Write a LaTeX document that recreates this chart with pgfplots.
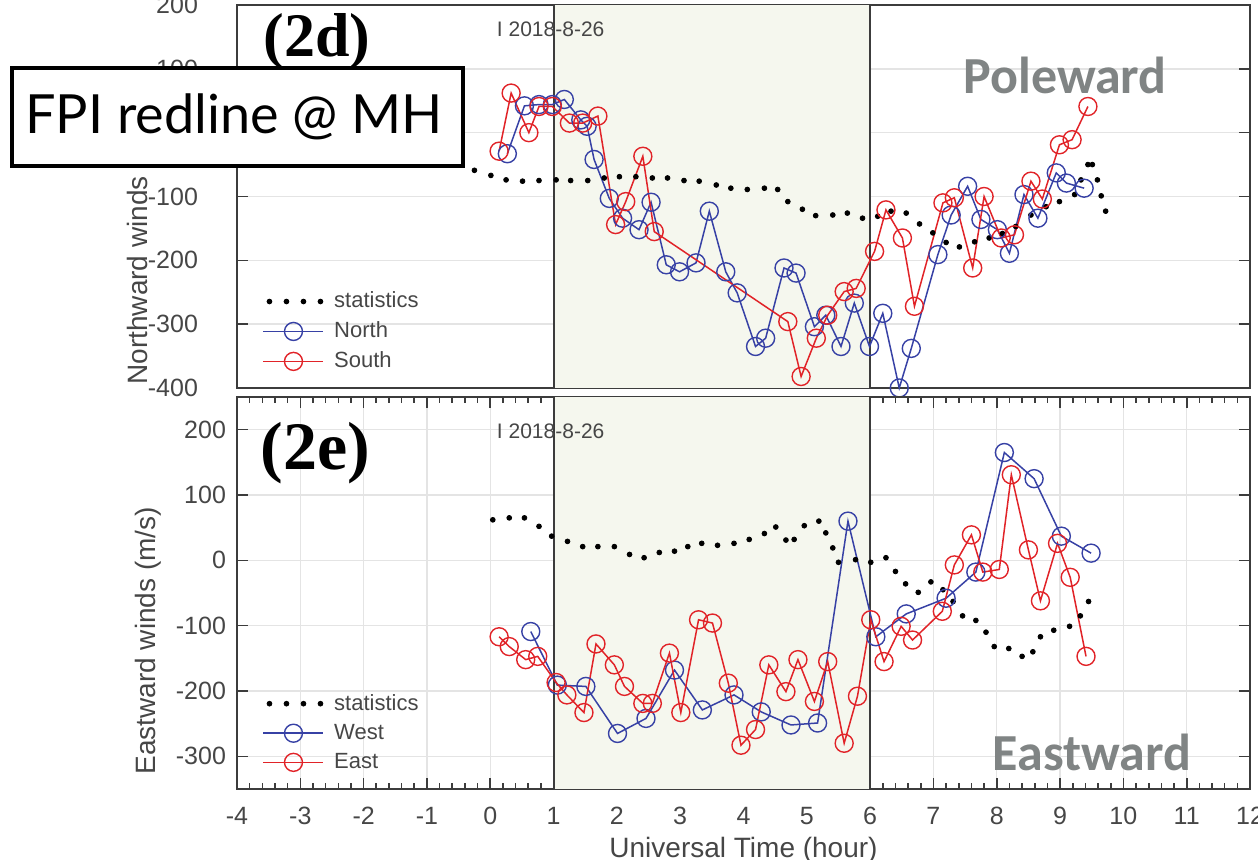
\documentclass[border=0pt]{standalone}
\usepackage{fontspec}
\setmainfont{Liberation Sans}
\newfontfamily\serifb{Liberation Serif}
\newfontfamily\lato{Lato}
\newfontfamily\carlito{Carlito}
\usepackage{pgfplots}
\pgfplotsset{compat=1.18}

\definecolor{nblue}{RGB}{55,65,165}
\definecolor{sred}{RGB}{225,35,40}
\definecolor{shadec}{RGB}{245,247,238}
\definecolor{gridc}{RGB}{228,228,228}
\definecolor{framec}{RGB}{60,60,60}
\definecolor{labc}{RGB}{70,70,70}
\definecolor{wordc}{RGB}{128,132,132}

\pgfplotsset{
  panel/.style={
    scale only axis, width=506.5pt, xmin=-4, xmax=12, clip=false,
    axis line style={framec, line width=1pt},
    tick style={framec, line width=0.8pt},
    major tick length=5.5pt, minor tick length=3pt,
    tick align=inside,
    grid style={gridc, line width=0.7pt},
    ymajorgrids,
    ticklabel style={font=\fontsize{12.5}{14}\selectfont, text=labc},
    /pgf/number format/assume math mode=true,
    legend style={draw=none, fill=none, anchor=north west,
      font=\fontsize{11}{13}\selectfont, text=labc, row sep=1.5pt, column sep=3pt, inner sep=0pt,
      cells={anchor=west}},
    legend cell align=left,
    legend image code/.code={\draw[mark repeat=2,mark phase=2,##1] plot coordinates {(0pt,0pt) (15pt,0pt) (30pt,0pt)};},
  },
  bluesty/.style={color=nblue, line width=0.75pt, mark=o, mark size=4.5pt, mark options={line width=0.7pt}},
  redsty/.style={color=sred, line width=0.75pt, mark=o, mark size=4.5pt, mark options={line width=0.7pt}},
  statsty/.style={only marks, mark=*, mark size=1.2pt, color=black,
    legend image code/.code={\foreach \i in {3,11.5,20,28.5}{\fill[black] (\i pt,0pt) circle (1.2pt);}}},
}

\begin{document}
\begin{tikzpicture}
\useasboundingbox (0pt,0pt) rectangle (629pt,-430pt);

% ---------- top panel (2d) ----------
\begin{axis}[panel,
  at={(118.5pt,-2.5pt)}, anchor=north west, height=191.5pt,
  ymin=-400, ymax=200, ytick={-400,-300,...,200},
  xtick=\empty,
  yticklabel style={xshift=-16pt},
  legend style={at={(axis description cs:0.025,0.262)}},
]
\fill[shadec] (axis cs:1,-400) rectangle (axis cs:6,200);
\draw[framec, line width=1pt] (axis cs:1,-400) -- (axis cs:1,200);
\draw[framec, line width=1pt] (axis cs:6,-400) -- (axis cs:6,200);

\addplot[statsty] coordinates {
(-0.25,-59)(0.01,-67)(0.25,-74)(0.51,-76)(0.77,-75)(1.04,-74)(1.27,-75)(1.54,-75)
(1.80,-71)(2.04,-69)(2.30,-69)(2.56,-71)(2.80,-71)(3.06,-75)(3.30,-76)(3.57,-82)
(3.80,-87)(4.06,-89)(4.33,-87)(4.54,-89)(4.70,-108)(4.93,-120)(5.14,-130)(5.41,-129)
(5.64,-126)(5.88,-134)(6.12,-131)(6.33,-123)(6.57,-126)(6.78,-143)(6.99,-157)(7.20,-172)
(7.41,-179)(7.65,-171)(7.88,-165)(8.09,-158)(8.30,-147)(8.54,-129)(8.78,-116)(8.99,-108)
(9.23,-97)(9.33,-74)(9.44,-50)(9.51,-50)(9.59,-74)(9.65,-99)(9.72,-123)};
\addlegendentry{statistics}

\addplot[bluesty] coordinates {
(0.27,-33)(0.54,42)(0.77,44)(0.98,44)(1.17,52)(1.43,20)(1.53,10)(1.64,-42)(1.88,-103)
(2.09,-134)(2.35,-152)(2.54,-109)(2.78,-207)(2.99,-218)(3.25,-204)(3.46,-123)(3.72,-218)
(3.90,-251)(4.19,-335)(4.35,-322)(4.64,-212)(4.83,-220)(5.12,-304)(5.30,-286)(5.54,-335)
(5.75,-267)(5.99,-335)(6.20,-283)(6.46,-400)(6.65,-338)(7.07,-191)(7.28,-129)(7.54,-84)
(7.75,-136)(8.01,-152)(8.20,-189)(8.43,-97)(8.65,-134)(8.94,-63)(9.10,-79)(9.38,-87)};
\addlegendentry{North}

\addplot[redsty] coordinates {
(0.14,-29)(0.33,62)(0.61,0)(0.77,41)(0.98,41)(1.25,15)(1.46,15)(1.70,26)(1.98,-144)
(2.14,-108)(2.41,-37)(2.59,-155)(4.70,-296)(4.91,-382)(5.15,-322)(5.33,-286)(5.59,-249)
(5.78,-244)(6.07,-186)(6.25,-121)(6.51,-165)(6.70,-272)(7.15,-110)(7.33,-102)(7.62,-212)
(7.80,-100)(8.07,-165)(8.28,-160)(8.54,-76)(8.72,-104)(8.99,-19)(9.19,-11)(9.44,41)};
\addlegendentry{South}

\node[anchor=west, font=\fontsize{10.5}{12}\selectfont, text=labc, inner sep=0pt] at (axis cs:0.1,162) {I 2018-8-26};
\end{axis}

% ---------- bottom panel (2e) ----------
\begin{axis}[panel,
  at={(118.5pt,-198.5pt)}, anchor=north west, height=196pt,
  ymin=-350, ymax=250, ytick={-300,-200,...,200},
  xtick={-4,-3,...,12}, minor x tick num=4, xmajorgrids,
  yticklabel style={xshift=-2pt},
  xticklabel style={yshift=-5.5pt},
  legend style={at={(axis description cs:0.025,0.253)}},
]
\fill[shadec] (axis cs:1,-350) rectangle (axis cs:6,250);
\draw[framec, line width=1pt] (axis cs:1,-350) -- (axis cs:1,250);
\draw[framec, line width=1pt] (axis cs:6,-350) -- (axis cs:6,250);

\addplot[statsty] coordinates {
(0.04,62)(0.30,65)(0.54,65)(0.77,52)(0.97,37)(1.22,29)(1.46,21)(1.70,21)(1.96,21)
(2.20,9)(2.43,4)(2.67,12)(2.91,14)(3.12,21)(3.34,26)(3.59,23)(3.85,26)(4.09,32)(4.33,41)
(4.51,51)(4.67,31)(4.80,32)(4.96,53)(5.19,60)(5.30,42)(5.41,19)(5.50,-3)(5.77,1)(6.01,-3)
(6.25,4)(6.40,-17)(6.56,-36)(6.76,-49)(6.96,-33)(7.15,-45)(7.31,-63)(7.46,-85)(7.67,-92)
(7.83,-110)(7.96,-132)(8.19,-135)(8.40,-147)(8.57,-140)(8.69,-117)(8.90,-107)(9.15,-101)
(9.32,-85)(9.45,-63)};
\addlegendentry{statistics}

\addplot[bluesty] coordinates {
(0.64,-109)(1.06,-191)(1.51,-193)(2.01,-265)(2.46,-242)(2.91,-168)(3.35,-229)(3.85,-206)
(4.28,-232)(4.75,-252)(5.17,-249)(5.65,60)(6.09,-117)(6.57,-82)(7.20,-58)(7.67,-18)
(8.12,165)(8.59,125)(9.02,37)(9.49,11)};
\addlegendentry{West}

\addplot[redsty] coordinates {
(0.14,-117)(0.30,-132)(0.56,-152)(0.75,-147)(1.04,-187)(1.21,-206)(1.48,-233)(1.67,-128)
(1.96,-160)(2.12,-193)(2.41,-219)(2.56,-219)(2.83,-142)(3.01,-233)(3.29,-91)(3.51,-96)
(3.76,-188)(3.96,-283)(4.19,-259)(4.40,-160)(4.67,-201)(4.86,-152)(5.12,-216)(5.33,-155)
(5.59,-280)(5.80,-208)(6.01,-91)(6.22,-155)(6.49,-101)(6.67,-122)(7.14,-78)(7.33,-7)
(7.60,39)(7.78,-18)(8.04,-14)(8.23,131)(8.50,16)(8.69,-62)(8.96,26)(9.16,-26)(9.41,-147)};
\addlegendentry{East}

\node[anchor=west, font=\fontsize{10.5}{12}\selectfont, text=labc, inner sep=0pt] at (axis cs:0.1,197) {I 2018-8-26};
\end{axis}

% axis labels
\node[anchor=center, font=\fontsize{14}{16}\selectfont, text=labc] at (371.75pt,-425pt) {Universal Time (hour)};
\node[rotate=90, anchor=west, inner sep=0pt, font=\fontsize{14}{16}\selectfont, text=labc] at (74pt,-387.5pt) {Eastward winds (m/s)};
\node[rotate=90, anchor=west, inner sep=0pt, font=\fontsize{14}{16}\selectfont, text=labc] at (70pt,-192.5pt) {Northward winds (m/s)};

% panel tags
\node[anchor=west, inner sep=0pt, font=\serifb\bfseries\fontsize{31}{34}\selectfont] at (131.5pt,-21pt) {(2d)};
\node[anchor=west, inner sep=0pt, font=\serifb\bfseries\fontsize{34}{36}\selectfont] at (130pt,-226.5pt) {(2e)};

% overlay words
\node[font=\carlito\bfseries\fontsize{26}{28}\selectfont, text=wordc] at (532.5pt,-37.5pt) {Poleward};
\node[font=\carlito\bfseries\fontsize{26}{28}\selectfont, text=wordc] at (546pt,-376pt) {Eastward};

% FPI box
\filldraw[fill=white, draw=black, line width=2pt] (6pt,-34pt) rectangle (231.5pt,-83pt);
\node[anchor=west, inner sep=0pt, font=\lato\fontsize{27}{30}\selectfont] at (12.5pt,-58.5pt) {FPI redline @ MH};
\end{tikzpicture}
\end{document}
